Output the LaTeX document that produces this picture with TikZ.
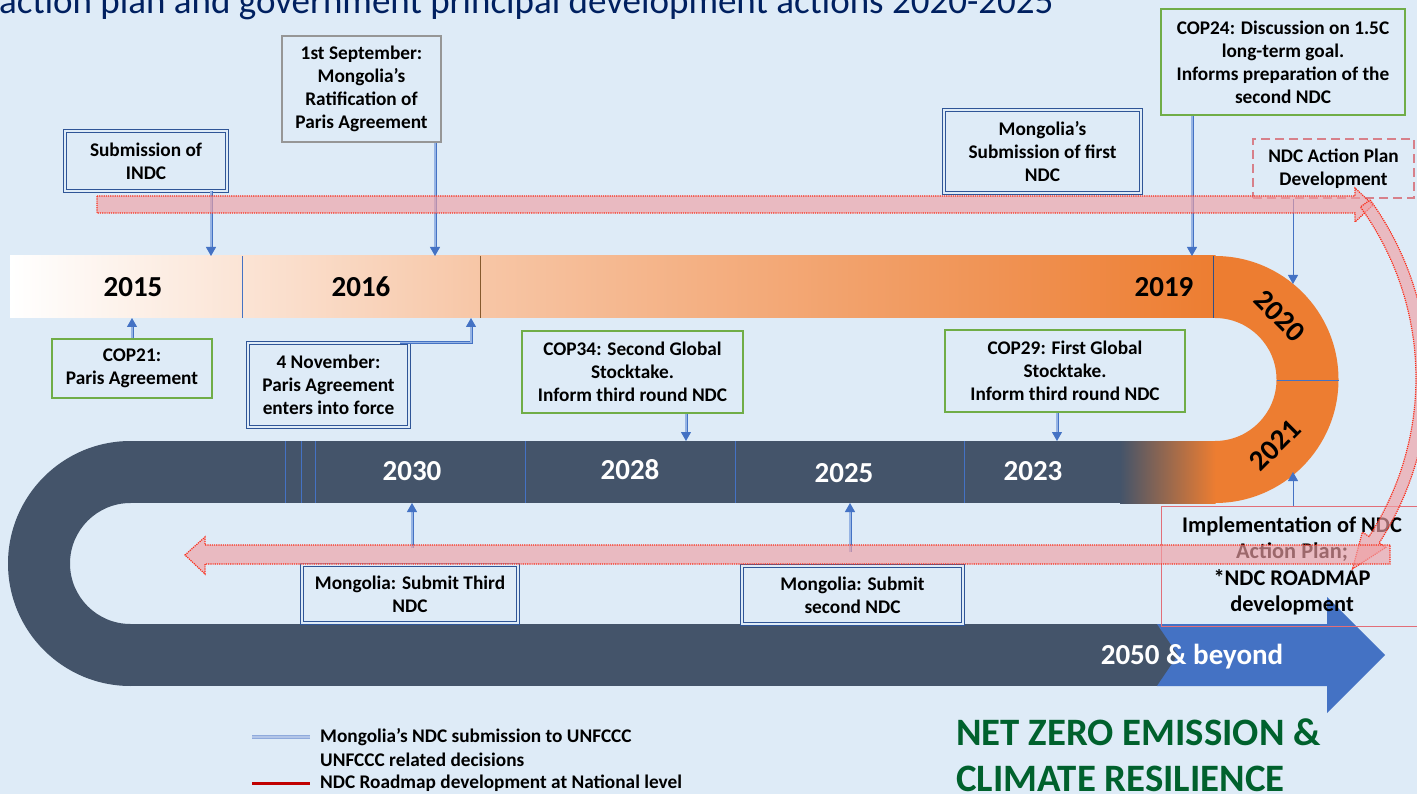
\documentclass[tikz,border=0pt]{standalone}
\usepackage{fontspec}
\setmainfont{Carlito}
\usetikzlibrary{arrows.meta,calc}

\definecolor{bg}{RGB}{222,235,247}
\definecolor{titleblue}{RGB}{0,32,96}
\definecolor{slate}{RGB}{68,84,106}
\definecolor{orangeA}{RGB}{237,125,49}
\definecolor{peachA}{RGB}{251,228,213}
\definecolor{peachB}{RGB}{247,198,166}
\definecolor{accblue}{RGB}{68,114,196}
\definecolor{linkblue}{RGB}{47,85,151}
\definecolor{paleblue}{RGB}{150,180,228}
\definecolor{boxgreen}{RGB}{112,173,71}
\definecolor{zerogreen}{RGB}{0,97,45}
\definecolor{roadred}{RGB}{192,0,0}
\definecolor{bandred}{RGB}{250,45,25}
\definecolor{bandfill}{RGB}{240,160,165}
\definecolor{dashpink}{RGB}{215,128,138}
\definecolor{implred}{RGB}{226,110,120}
\definecolor{sepgray}{RGB}{150,150,150}

\newcommand\bxfont{\fontsize{19.3}{23}\selectfont\bfseries}
\newcommand\yrfont{\fontsize{29}{31}\selectfont\bfseries}

\begin{document}
\begin{tikzpicture}[x=1pt,y=-1pt,
  yr/.style={font=\yrfont, inner sep=0pt},
  bluebox/.style={draw=linkblue, double=bg, double distance=1.6pt, line width=0.8pt,
    align=center, font=\bxfont, inner sep=0pt},
  greenbox/.style={draw=boxgreen, line width=2.6pt, align=center, font=\bxfont, inner sep=0pt},
  graybox/.style={draw=sepgray, line width=1.6pt, align=center, font=\bxfont, inner sep=0pt},
  dashbox/.style={draw=dashpink, line width=1.6pt, dash pattern=on 9pt off 5pt,
    align=center, font=\bxfont, inner sep=0pt},
  implbox/.style={draw=implred, line width=0.8pt, align=center,
    font=\fontsize{22.4}{26.5}\selectfont\bfseries, inner sep=0pt},
  conn/.style={draw=accblue, double=paleblue, double distance=1.2pt, line width=0.9pt,
    -{Triangle[length=9pt,width=10pt]}},
  thinconn/.style={draw=accblue, line width=0.9pt, -{Triangle[length=9pt,width=10pt]}},
  divider/.style={draw=accblue, line width=0.6pt},
  redband/.style={draw=bandred, densely dotted, line width=1.2pt, fill=bandfill,
    fill opacity=0.65},
  legtext/.style={anchor=west, font=\fontsize{19.3}{22}\selectfont\bfseries, inner sep=0pt}]

\useasboundingbox (0,0) rectangle (1417,794);
\clip (0,0) rectangle (1417,794);
\fill[bg] (0,0) rectangle (1417,794);

% heading
\node[anchor=base west, inner sep=0pt, text=titleblue, font=\fontsize{37}{40}\selectfont]
  (heading) at (-1,14) {action plan and government principal development actions 2020-2025};

% ---------- upper band 2015-2019 ----------
\shade[left color=white, right color=peachA] (10,256) rectangle (242,318);
\shade[left color=peachA, right color=peachB] (242,256) rectangle (480,318);
\shade[left color=peachB, right color=orangeA] (480,256) rectangle (1215.5,318);
\draw[divider] (242,256) -- (242,318);
\draw[draw=brown!70!black, line width=0.5pt] (480,256) -- (480,318);
\draw[draw=accblue!70!black, line width=0.6pt] (1213,256) -- (1213,318);

% right turn 2020-2021
\fill[orangeA] (1215,256) arc[start angle=-90, end angle=90, radius=123.5]
  -- (1215,441) arc[start angle=90, end angle=-90, radius=61.5] -- cycle;
\draw[divider] (1276.5,380) -- (1338.5,380);

% ---------- middle band 2023-2030 ----------
\fill[slate] (130,441) rectangle (1121,503);
\shade[left color=slate, right color=orangeA] (1120,441) rectangle (1215.5,503);
\foreach \xx in {285,301,315,525,735,964} \draw[divider] (\xx,441) -- (\xx,503);

% left turn
\fill[slate] (130.5,441) arc[start angle=270, end angle=90, radius=122.5]
  -- (130.5,624) arc[start angle=90, end angle=270, radius=60.5] -- cycle;

% ---------- lower band and final arrow ----------
\fill[slate] (130,624) rectangle (1185,686);
\fill[accblue] (1157,624) -- (1327,624) -- (1327,597) -- (1385,655) -- (1327,713)
  -- (1327,686) -- (1157,686) -- (1178,655) -- cycle;

% year labels
\node[yr] (y2015) at (133,287) {2015};
\node[yr] (y2016) at (361,287) {2016};
\node[yr] (y2019) at (1164,287) {2019};
\node[yr, rotate=-45] (y2020) at (1280,316) {2020};
\node[yr, rotate=45] (y2021) at (1275,445) {2021};
\node[yr, text=white] (y2030) at (412,471) {2030};
\node[yr, text=white] (y2028) at (630,470) {2028};
\node[yr, text=white] (y2025) at (844,473) {2025};
\node[yr, text=white] (y2023) at (1033,471) {2023};
\node[yr, text=white, font=\fontsize{29}{31}\selectfont\bfseries] (y2050) at (1192,657) {2050 \& beyond};

% ---------- event boxes ----------
\node[bluebox, minimum width=162, minimum height=60] (indc) at (146,161)
  {Submission of\\INDC};
\node[graybox, minimum width=159, minimum height=106] (ratify) at (361.5,89)
  {1st September:\\Mongolia’s\\Ratification of\\Paris Agreement};
\node[greenbox, minimum width=160, minimum height=59] (cop21) at (132,368.5)
  {COP21:\\Paris Agreement};
\node[bluebox, minimum width=161, minimum height=84] (force) at (328.5,385)
  {4 November:\\Paris Agreement\\enters into force};
\node[greenbox, minimum width=221, minimum height=82] (cop34) at (632.5,372)
  {COP34: Second Global\\Stocktake.\\Inform third round NDC};
\node[greenbox, minimum width=240, minimum height=82] (cop29) at (1065,371)
  {COP29: First Global\\Stocktake.\\Inform third round NDC};
\node[bluebox, minimum width=197, minimum height=83] (first) at (1042.5,151.5)
  {Mongolia’s\\Submission of first\\NDC};
\node[greenbox, minimum width=244, minimum height=106] (cop24) at (1283,62)
  {COP24: Discussion on 1.5C\\long-term goal.\\Informs preparation of the\\second NDC};
\node[dashbox, minimum width=161, minimum height=59] (plan) at (1333.5,168.5)
  {NDC Action Plan\\Development};
\node[implbox, minimum width=262, minimum height=120] (impl) at (1292,566)
  {Implementation of NDC\\Action Plan;\\*NDC ROADMAP\\development};
\node[bluebox, minimum width=216, minimum height=58] (third) at (410,594)
  {Mongolia: Submit Third\\NDC};
\node[bluebox, minimum width=221, minimum height=58] (second) at (852.5,595)
  {Mongolia: Submit\\second NDC};

% ---------- connectors ----------
\coordinate (t15) at (211,256);
\coordinate (t16) at (435,256);
\coordinate (b15) at (132,318);
\coordinate (b16) at (471,318);
\coordinate (t28) at (686,441);
\coordinate (t23) at (1057,441);
\coordinate (t19) at (1192,256);
\coordinate (t20) at (1293,284);
\coordinate (b21) at (1293,472);
\coordinate (b30) at (412,503);
\coordinate (b25) at (850,503);
\coordinate (s30) at (412,548);
\coordinate (s25) at (850,552);

\draw[conn] (indc.south -| t15) -- (t15);
\draw[conn] (ratify.south -| t16) -- (t16);
\draw[conn] (cop21.north) -- (b15);
\draw[conn] ($(force.north east)+(-9,0)$) -| (b16);
\draw[conn] (cop34.south -| t28) -- (t28);
\draw[conn] (cop29.south -| t23) -- (t23);
\draw[conn] (cop24.south -| t19) -- (t19);
\draw[thinconn] (plan.south -| t20) -- (t20);
\draw[thinconn] (impl.north -| b21) -- (b21);
\draw[conn] (s30) -- (b30);
\draw[conn] (s25) -- (b25);

% ---------- national roadmap arrows ----------
\draw[redband] (97,196) -- (1355,196) -- (1355,188) -- (1373,205) -- (1355,222)
  -- (1355,213) -- (97,213) -- cycle;
\draw[redband] plot[domain=-36:33, samples=40] ({1125+303*cos(\x)},{378+303*sin(\x)})
  -- ({1125+311*cos(33)},{378+311*sin(33)})
  -- ({1125+297*cos(40)},{378+297*sin(40)})
  -- ({1125+283*cos(33)},{378+283*sin(33)})
  -- plot[domain=33:-36, samples=40] ({1125+291*cos(\x)},{378+291*sin(\x)}) -- cycle;
\draw[redband] (1390,545) -- (205,545) -- (205,537) -- (185,555) -- (205,574)
  -- (205,564) -- (1390,564) -- cycle;

% ---------- legend ----------
\coordinate (la) at (252,737); \coordinate (lb) at (310,737);
\coordinate (lc) at (252,760); \coordinate (ld) at (310,760);
\coordinate (le) at (252,783); \coordinate (lf) at (310,783);
\draw[draw={rgb,255:red,143;green,170;blue,220}, double={rgb,255:red,178;green,197;blue,232},
  double distance=1.4pt, line width=1pt] (la) -- (lb);
\draw[draw=boxgreen, double=bg, double distance=1.2pt, line width=0.7pt] (lc) -- (ld);
\draw[draw=roadred, line width=3pt] (le) -- (lf);
\node[legtext] (l1) at (320,737) {Mongolia’s NDC submission to UNFCCC};
\node[legtext] (l2) at (320,760) {UNFCCC related decisions};
\node[legtext] (l3) at (320,783) {NDC Roadmap development at National level};

% ---------- goal ----------
\node[anchor=west, inner sep=0pt, text=zerogreen, align=left,
  font=\fontsize{38.8}{46}\selectfont\bfseries] (goal) at (956,755)
  {NET ZERO EMISSION \&\\CLIMATE RESILIENCE};

\end{tikzpicture}
\end{document}
